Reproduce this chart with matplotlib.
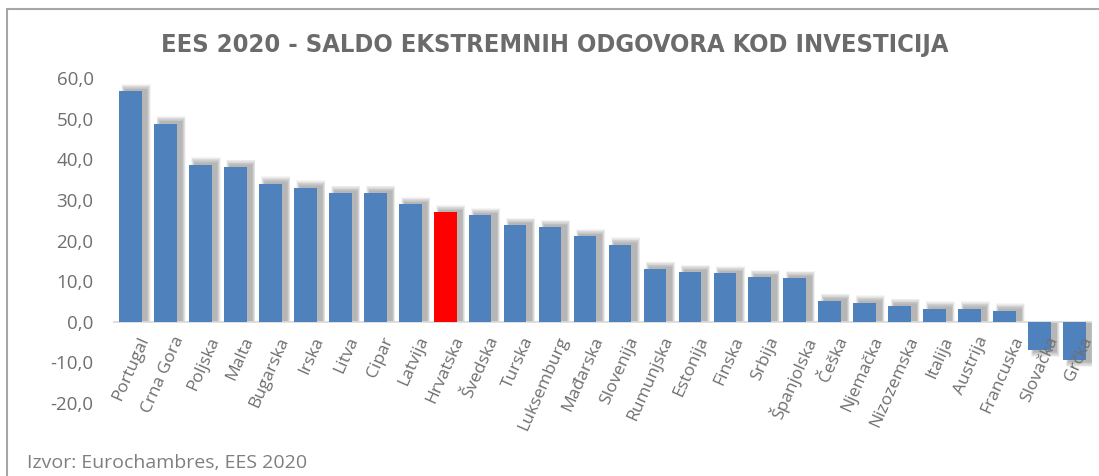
import numpy as np
import matplotlib
matplotlib.use("Agg")
import matplotlib.pyplot as plt
from matplotlib.patches import Rectangle
from matplotlib.ticker import FuncFormatter

# data
countries = ["Portugal", "Crna Gora", "Poljska", "Malta", "Bugarska", "Irska", "Litva",
             "Cipar", "Latvija", "Hrvatska", "Švedska", "Turska", "Luksemburg", "Mađarska",
             "Slovenija", "Rumunjska", "Estonija", "Finska", "Srbija", "Španjolska", "Češka",
             "Njemačka", "Nizozemska", "Italija", "Austrija", "Francuska", "Slovačka", "Grčka"]
values = [56.7, 48.8, 38.7, 38.1, 34.0, 33.0, 31.7, 31.7, 28.9, 26.9, 26.2, 23.8, 23.3, 21.0,
          19.0, 13.0, 12.2, 11.9, 11.0, 10.7, 5.1, 4.7, 3.9, 3.2, 3.2, 2.7, -6.9, -9.4]
highlight = "Hrvatska"

title = "EES 2020 - SALDO EKSTREMNIH ODGOVORA KOD INVESTICIJA"
source = "Izvor: Eurochambres, EES 2020"

blue = "#4f81bd"
red = "#ff0000"
txt = "#6f6f6f"

fig = plt.figure(figsize=(10.99, 4.76), dpi=100)
ax = fig.add_axes([113 / 1099, 1 - 403 / 476, (1092 - 113) / 1099, (403 - 78) / 476])

x = np.arange(len(countries))
w = 0.65
vals = np.array(values)

# soft blurred shadow, offset right/up: stacked translucent layers
n = 8
for k in range(n):
    f = 1 - k / (n - 1)
    ax.bar(x + 0.16, vals + np.sign(vals) * (0.5 + 1.3 * f), width=w + 0.18 * f,
           color="#000000", alpha=0.04, zorder=1, linewidth=0)

colors = [red if c == highlight else blue for c in countries]
ax.bar(x, vals, width=w, color=colors, zorder=3, linewidth=0)

ax.axhline(0, color="#d9d9d9", lw=1.2, zorder=2)

ax.set_xlim(-0.5, len(countries) - 0.5)
ax.set_ylim(-20, 60)
ax.set_yticks(np.arange(-20, 61, 10))
ax.yaxis.set_major_formatter(FuncFormatter(lambda v, p: f"{v:.1f}".replace(".", ",")))
for s in ax.spines.values():
    s.set_visible(False)
ax.tick_params(axis="both", length=0, colors=txt)
ax.tick_params(axis="y", labelsize=13.5, pad=14)

ax.set_xticks([])
for i, c in enumerate(countries):
    ax.annotate(c, xy=(i, 0), xytext=(5, -9), textcoords="offset points",
                rotation=66, ha="right", va="top", rotation_mode="anchor",
                fontsize=12.5, color=txt, family="Open Sans")
for lbl in ax.get_yticklabels():
    lbl.set_family("Open Sans")

fig.text(0.505, 1 - 45 / 476, title, ha="center", va="center", fontsize=18.3,
         fontweight="bold", color="#6b6b6b", family="DejaVu Sans", fontstretch="condensed")
fig.text(27 / 1099, 1 - 463 / 476, source, ha="left", va="center", fontsize=14,
         color="#7f7f7f", family="Open Sans")

# outer frame
fig.patches.append(Rectangle((7 / 1099, -0.2), 1.0, 1.2 - 9 / 476, transform=fig.transFigure,
                             fill=False, edgecolor="#a6a6a6", lw=1.5))

fig.savefig("out.png", dpi=100)
